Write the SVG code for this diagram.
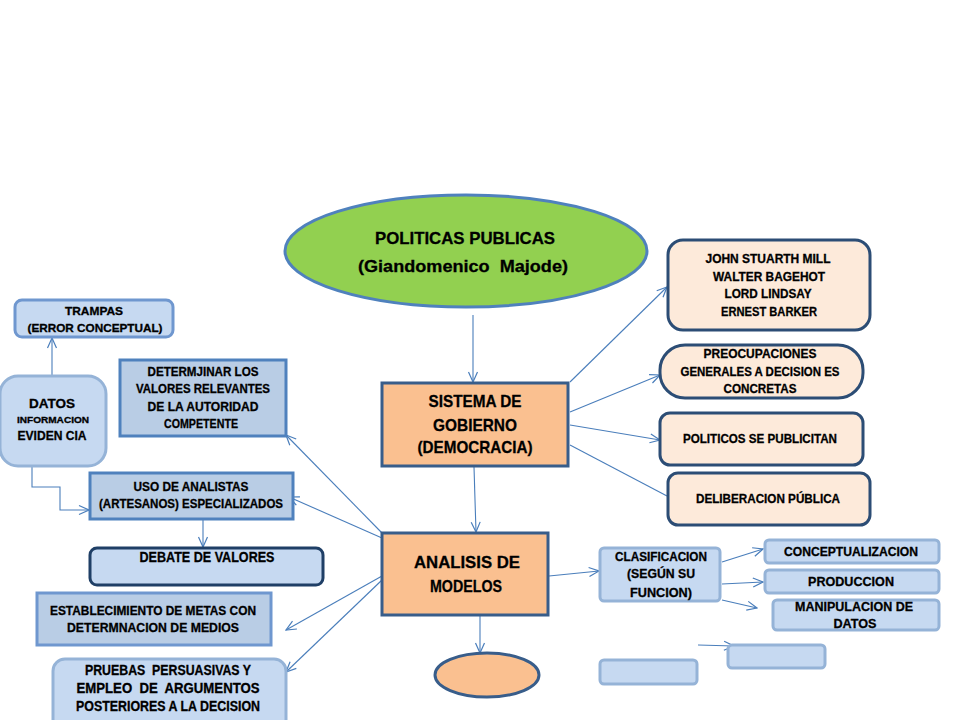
<svg xmlns="http://www.w3.org/2000/svg" width="960" height="720" viewBox="0 0 960 720">
<defs>
<marker id="arr" markerUnits="userSpaceOnUse" markerWidth="12" markerHeight="12" viewBox="0 0 12 12" refX="11" refY="6" orient="auto">
<path d="M1,1.5 L11,6 L1,10.5" fill="none" stroke="#4A7EBB" stroke-width="1.2"/>
</marker>
</defs>
<style>
text{font-family:"Liberation Sans",Arial,sans-serif;font-weight:bold;fill:#000;text-anchor:middle;white-space:pre;stroke:#000;stroke-width:0.3}
.con{fill:none;stroke:#4A7EBB;stroke-width:1.1}
.lb{fill:#C6D9F1;stroke:#95B3D7;stroke-width:3}
.lbm{fill:#C6D9F1;stroke:#6F97CF;stroke-width:3}
.sq{fill:#B9CDE5;stroke:#4F81BD;stroke-width:3}
.pk{fill:#FDEADA;stroke:#2C4D75;stroke-width:3}
.or{fill:#FAC090;stroke:#385D8A;stroke-width:3}
.s11{font-size:11px}.s12{font-size:12.5px}.s13{font-size:13px}.s14{font-size:14px}.s15{font-size:15px}.s17{font-size:17px}
</style>
<rect width="960" height="720" fill="#fff"/>

<g id="connectors">
<line class="con" x1="473" y1="315" x2="473" y2="382" marker-end="url(#arr)"/>
<line class="con" x1="474" y1="467" x2="476" y2="532" marker-end="url(#arr)"/>
<line class="con" x1="570" y1="382" x2="667" y2="287" marker-end="url(#arr)"/>
<line class="con" x1="570" y1="412" x2="660" y2="375" marker-end="url(#arr)"/>
<line class="con" x1="570" y1="425" x2="660" y2="440" marker-end="url(#arr)"/>
<line class="con" x1="570" y1="445" x2="667" y2="496"/>
<line class="con" x1="382" y1="533" x2="286" y2="435" marker-end="url(#arr)"/>
<line class="con" x1="382" y1="538" x2="289" y2="497" marker-end="url(#arr)"/>
<line class="con" x1="382" y1="576" x2="286" y2="630" marker-end="url(#arr)"/>
<line class="con" x1="382" y1="580" x2="286" y2="672" marker-end="url(#arr)"/>
<line class="con" x1="52" y1="375" x2="52" y2="338" marker-end="url(#arr)"/>
<polyline class="con" points="32,466 32,487 60,487 60,510 89,510" marker-end="url(#arr)"/>
<line class="con" x1="203" y1="519" x2="203" y2="547" marker-end="url(#arr)"/>
<line class="con" x1="549" y1="576" x2="599" y2="571" marker-end="url(#arr)"/>
<line class="con" x1="722" y1="562" x2="763" y2="549" marker-end="url(#arr)"/>
<line class="con" x1="722" y1="584" x2="763" y2="582" marker-end="url(#arr)"/>
<line class="con" x1="722" y1="600" x2="757" y2="608" marker-end="url(#arr)"/>
<line class="con" x1="480" y1="616" x2="480" y2="653" marker-end="url(#arr)"/>
<line class="con" x1="698" y1="645" x2="734" y2="646" marker-end="url(#arr)"/>
</g>

<g id="politicas">
<ellipse cx="466" cy="251" rx="181" ry="56" fill="#92D050" stroke="#4F81BD" stroke-width="3"/>
<text class="s17" x="465" y="244" textLength="180" lengthAdjust="spacingAndGlyphs">POLITICAS PUBLICAS</text>
<text class="s17" x="463" y="272" textLength="210" lengthAdjust="spacingAndGlyphs">(Giandomenico  Majode)</text>
</g>

<g id="sistema">
<rect class="or" x="382" y="383" width="186" height="83"/>
<text class="s17" x="475" y="407" textLength="93" lengthAdjust="spacingAndGlyphs">SISTEMA DE</text>
<text class="s17" x="475" y="431" textLength="84" lengthAdjust="spacingAndGlyphs">GOBIERNO</text>
<text class="s17" x="475" y="453" textLength="115" lengthAdjust="spacingAndGlyphs">(DEMOCRACIA)</text>
</g>

<g id="analisis">
<rect class="or" x="382" y="533" width="166" height="82"/>
<text class="s17" x="467" y="568" textLength="106" lengthAdjust="spacingAndGlyphs">ANALISIS DE</text>
<text class="s17" x="466" y="592" textLength="72" lengthAdjust="spacingAndGlyphs">MODELOS</text>
</g>

<g id="john">
<rect class="pk" x="668" y="240" width="202" height="90" rx="15"/>
<text class="s13" x="768" y="263" textLength="125" lengthAdjust="spacingAndGlyphs">JOHN STUARTH MILL</text>
<text class="s13" x="769" y="281" textLength="112" lengthAdjust="spacingAndGlyphs">WALTER BAGEHOT</text>
<text class="s13" x="768" y="298" textLength="87" lengthAdjust="spacingAndGlyphs">LORD LINDSAY</text>
<text class="s13" x="769" y="316" textLength="96" lengthAdjust="spacingAndGlyphs">ERNEST BARKER</text>
</g>

<g id="preocupaciones">
<rect class="pk" x="660" y="345" width="203" height="53" rx="25"/>
<text class="s13" x="760" y="358" textLength="113" lengthAdjust="spacingAndGlyphs">PREOCUPACIONES</text>
<text class="s13" x="760" y="376" textLength="159" lengthAdjust="spacingAndGlyphs">GENERALES A DECISION ES</text>
<text class="s13" x="760" y="393" textLength="73" lengthAdjust="spacingAndGlyphs">CONCRETAS</text>
</g>

<g id="politicos">
<rect class="pk" x="660" y="413" width="203" height="52" rx="10"/>
<text class="s13" x="760" y="443" textLength="154" lengthAdjust="spacingAndGlyphs">POLITICOS SE PUBLICITAN</text>
</g>

<g id="deliberacion">
<rect class="pk" x="668" y="473" width="202" height="52" rx="10"/>
<text class="s13" x="768" y="503" textLength="144" lengthAdjust="spacingAndGlyphs">DELIBERACION PÚBLICA</text>
</g>

<g id="trampas">
<rect class="lbm" x="15" y="300" width="158" height="37" rx="7"/>
<text class="s11" x="94" y="315" textLength="58" lengthAdjust="spacingAndGlyphs">TRAMPAS</text>
<text class="s11" x="95" y="332" textLength="135" lengthAdjust="spacingAndGlyphs">(ERROR CONCEPTUAL)</text>
</g>

<g id="datos">
<rect class="lb" x="0" y="376" width="106" height="90" rx="18"/>
<text class="s12" x="52" y="408" textLength="46" lengthAdjust="spacingAndGlyphs">DATOS</text>
<text style="font-size:9px" x="53" y="423" textLength="72" lengthAdjust="spacingAndGlyphs">INFORMACION</text>
<text class="s12" x="52" y="440" textLength="69" lengthAdjust="spacingAndGlyphs">EVIDEN CIA</text>
</g>

<g id="determinar">
<rect class="sq" x="120" y="360" width="166" height="76"/>
<text class="s12" x="203" y="376" textLength="111" lengthAdjust="spacingAndGlyphs">DETERMJINAR LOS</text>
<text class="s12" x="203" y="393" textLength="134" lengthAdjust="spacingAndGlyphs">VALORES RELEVANTES</text>
<text class="s12" x="203" y="411" textLength="111" lengthAdjust="spacingAndGlyphs">DE LA AUTORIDAD</text>
<text class="s12" x="201" y="428" textLength="74" lengthAdjust="spacingAndGlyphs">COMPETENTE</text>
</g>

<g id="uso">
<rect class="sq" x="90" y="473" width="203" height="46"/>
<text class="s12" x="191" y="491" textLength="115" lengthAdjust="spacingAndGlyphs">USO DE ANALISTAS</text>
<text class="s12" x="191" y="508" textLength="184" lengthAdjust="spacingAndGlyphs">(ARTESANOS) ESPECIALIZADOS</text>
</g>

<g id="debate">
<rect x="90" y="548" width="233" height="37" rx="7" fill="#C6D9F1" stroke="#1F3F66" stroke-width="3"/>
<text class="s15" x="207" y="562" textLength="135" lengthAdjust="spacingAndGlyphs">DEBATE DE VALORES</text>
</g>

<g id="establecimiento">
<rect class="sq" x="37" y="593" width="234" height="52" style="stroke:#6F97CF"/>
<text class="s12" x="153" y="615" textLength="206" lengthAdjust="spacingAndGlyphs">ESTABLECIMIENTO DE METAS CON</text>
<text class="s12" x="153" y="632" textLength="172" lengthAdjust="spacingAndGlyphs">DETERMNACION DE MEDIOS</text>
</g>

<g id="pruebas">
<rect class="lb" x="53" y="659" width="233" height="75" rx="12"/>
<text class="s14" x="168" y="675" textLength="166" lengthAdjust="spacingAndGlyphs">PRUEBAS  PERSUASIVAS Y</text>
<text class="s14" x="168" y="693" textLength="183" lengthAdjust="spacingAndGlyphs">EMPLEO  DE  ARGUMENTOS</text>
<text class="s14" x="168" y="711" textLength="184" lengthAdjust="spacingAndGlyphs">POSTERIORES A LA DECISION</text>
</g>

<g id="clasificacion">
<rect class="lb" x="600" y="548" width="120" height="53" rx="4"/>
<text class="s13" x="661" y="561" textLength="92" lengthAdjust="spacingAndGlyphs">CLASIFICACION</text>
<text class="s13" x="661" y="578" textLength="68" lengthAdjust="spacingAndGlyphs">(SEGÚN SU</text>
<text class="s13" x="661" y="597" textLength="62" lengthAdjust="spacingAndGlyphs">FUNCION)</text>
</g>

<g id="conceptualizacion">
<rect class="lb" x="765" y="540" width="174" height="23" rx="4"/>
<text class="s13" x="851" y="556" textLength="134" lengthAdjust="spacingAndGlyphs">CONCEPTUALIZACION</text>
</g>

<g id="produccion">
<rect class="lb" x="765" y="570" width="174" height="23" rx="4"/>
<text class="s13" x="851" y="586" textLength="86" lengthAdjust="spacingAndGlyphs">PRODUCCION</text>
</g>

<g id="manipulacion">
<rect class="lb" x="773" y="600" width="166" height="30" rx="4"/>
<text class="s13" x="854" y="611" textLength="118" lengthAdjust="spacingAndGlyphs">MANIPULACION DE</text>
<text class="s13" x="855" y="628" textLength="43" lengthAdjust="spacingAndGlyphs">DATOS</text>
</g>

<g id="ellipse-bottom">
<ellipse cx="487" cy="675" rx="52" ry="22" class="or"/>
</g>

<g id="empty-box-1">
<rect class="lb" x="728" y="645" width="97" height="23" rx="4"/>
</g>

<g id="empty-box-2">
<rect class="lb" x="600" y="660" width="97" height="24" rx="4"/>
</g>
</svg>
